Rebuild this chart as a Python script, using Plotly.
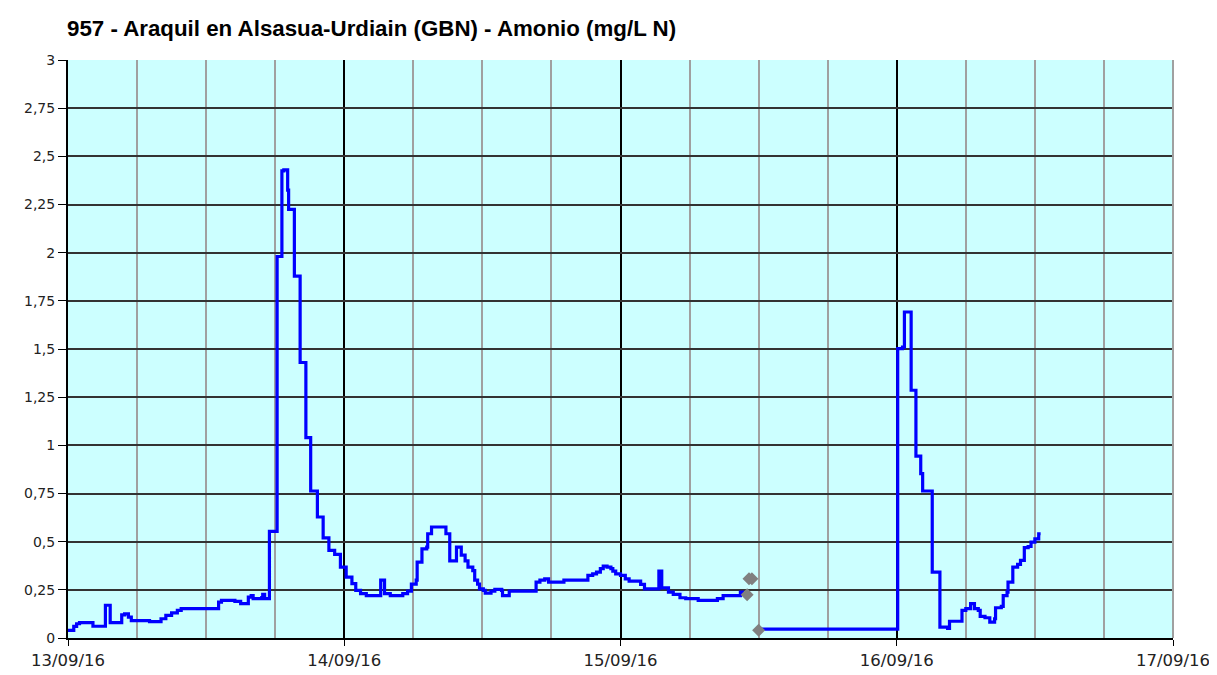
import plotly.graph_objects as go

# Amonio (mg/L N), 957 - Araquil en Alsasua-Urdiain, first stretch of readings
tramo1_horas = [
    "2016-09-13 00:00", "2016-09-13 00:30", "2016-09-13 00:45", "2016-09-13 01:00",
    "2016-09-13 02:10", "2016-09-13 03:15", "2016-09-13 03:40", "2016-09-13 04:40",
    "2016-09-13 04:55", "2016-09-13 05:15", "2016-09-13 05:30", "2016-09-13 07:05",
    "2016-09-13 08:05", "2016-09-13 08:30", "2016-09-13 09:00", "2016-09-13 09:30",
    "2016-09-13 09:50", "2016-09-13 13:05", "2016-09-13 13:20", "2016-09-13 14:30",
    "2016-09-13 15:00", "2016-09-13 15:40", "2016-09-13 15:55", "2016-09-13 16:05",
    "2016-09-13 16:50", "2016-09-13 16:55", "2016-09-13 17:05", "2016-09-13 17:30",
    "2016-09-13 18:10", "2016-09-13 18:35", "2016-09-13 18:45", "2016-09-13 19:05",
    "2016-09-13 19:10", "2016-09-13 19:40", "2016-09-13 20:10", "2016-09-13 20:40",
    "2016-09-13 21:05", "2016-09-13 21:40", "2016-09-13 22:10", "2016-09-13 22:40",
    "2016-09-13 23:10", "2016-09-13 23:40", "2016-09-14 00:10", "2016-09-14 00:40",
    "2016-09-14 01:00", "2016-09-14 01:25", "2016-09-14 01:55", "2016-09-14 03:10",
    "2016-09-14 03:30", "2016-09-14 04:00", "2016-09-14 05:05", "2016-09-14 05:30",
    "2016-09-14 05:50", "2016-09-14 06:15", "2016-09-14 06:20", "2016-09-14 06:45",
    "2016-09-14 07:10", "2016-09-14 07:15", "2016-09-14 07:35", "2016-09-14 08:50",
    "2016-09-14 09:10", "2016-09-14 09:45", "2016-09-14 10:10", "2016-09-14 10:30",
    "2016-09-14 10:45", "2016-09-14 11:10", "2016-09-14 11:20", "2016-09-14 11:35",
    "2016-09-14 11:45", "2016-09-14 12:05", "2016-09-14 12:15", "2016-09-14 12:45",
    "2016-09-14 13:05", "2016-09-14 13:40", "2016-09-14 13:45", "2016-09-14 14:20",
    "2016-09-14 16:40", "2016-09-14 17:00", "2016-09-14 17:25", "2016-09-14 17:45",
    "2016-09-14 19:05", "2016-09-14 21:10", "2016-09-14 21:35", "2016-09-14 21:55",
    "2016-09-14 22:15", "2016-09-14 22:30", "2016-09-14 22:50", "2016-09-14 23:10",
    "2016-09-14 23:20", "2016-09-14 23:35", "2016-09-15 00:00", "2016-09-15 00:25",
    "2016-09-15 00:45", "2016-09-15 01:45", "2016-09-15 02:05", "2016-09-15 03:20",
    "2016-09-15 03:35", "2016-09-15 04:10", "2016-09-15 04:35", "2016-09-15 05:10",
    "2016-09-15 05:40", "2016-09-15 06:45", "2016-09-15 08:25", "2016-09-15 08:55",
    "2016-09-15 10:25", "2016-09-15 10:45",
]
tramo1_valores = [
    0.04, 0.06, 0.074, 0.08,
    0.061, 0.17, 0.08, 0.12,
    0.125, 0.108, 0.09, 0.085,
    0.10, 0.117, 0.13, 0.143,
    0.152, 0.186, 0.195, 0.19,
    0.178, 0.212, 0.22, 0.204,
    0.21, 0.226, 0.204, 0.553,
    1.98, 2.425, 2.43, 2.325,
    2.225, 1.878, 1.43, 1.04,
    0.763, 0.628, 0.52, 0.455,
    0.434, 0.368, 0.316, 0.282,
    0.247, 0.23, 0.22, 0.30,
    0.23, 0.22, 0.23, 0.243,
    0.28, 0.30, 0.394, 0.463,
    0.472, 0.541, 0.576, 0.541,
    0.40, 0.472, 0.43, 0.40,
    0.368, 0.35, 0.30, 0.28,
    0.255, 0.247, 0.233, 0.243,
    0.252, 0.247, 0.22, 0.243,
    0.29, 0.30, 0.307, 0.29,
    0.30, 0.325, 0.333, 0.342,
    0.36, 0.373, 0.368, 0.36,
    0.347, 0.333, 0.325, 0.307,
    0.295, 0.278, 0.255, 0.347,
    0.26, 0.238, 0.226, 0.209,
    0.204, 0.195, 0.204, 0.22,
    0.238, 0.238,
]

# readings shown as grey points (not validated)
grises_horas = ["2016-09-15 11:00", "2016-09-15 11:10", "2016-09-15 11:25", "2016-09-15 12:00"]
grises_valores = [0.224, 0.307, 0.307, 0.04]

# second stretch
tramo2_horas = [
    "2016-09-15 12:00", "2016-09-16 00:05", "2016-09-16 00:30", "2016-09-16 00:40",
    "2016-09-16 01:15", "2016-09-16 01:40", "2016-09-16 02:05", "2016-09-16 02:15",
    "2016-09-16 03:05", "2016-09-16 03:45", "2016-09-16 04:25", "2016-09-16 04:35",
    "2016-09-16 05:40", "2016-09-16 06:00", "2016-09-16 06:25", "2016-09-16 06:45",
    "2016-09-16 07:05", "2016-09-16 07:15", "2016-09-16 07:40", "2016-09-16 08:05",
    "2016-09-16 08:30", "2016-09-16 08:35", "2016-09-16 09:05", "2016-09-16 09:15",
    "2016-09-16 09:35", "2016-09-16 09:40", "2016-09-16 10:05", "2016-09-16 10:30",
    "2016-09-16 10:45", "2016-09-16 11:05", "2016-09-16 11:25", "2016-09-16 11:40",
    "2016-09-16 12:00", "2016-09-16 12:20", "2016-09-16 12:30",
]
tramo2_valores = [
    0.046, 1.502, 1.51, 1.692,
    1.286, 0.944, 0.853, 0.763,
    0.342, 0.056, 0.05, 0.087,
    0.143, 0.152, 0.178, 0.152,
    0.143, 0.112, 0.105, 0.082,
    0.10, 0.157, 0.164, 0.22,
    0.238, 0.29, 0.368, 0.382,
    0.403, 0.469, 0.475, 0.498,
    0.515, 0.541, 0.541,
]

dias = ["2016-09-13", "2016-09-14", "2016-09-15", "2016-09-16", "2016-09-17"]
dias_texto = ["13/09/16", "14/09/16", "15/09/16", "16/09/16", "17/09/16"]
y_ticks = [0, 0.25, 0.5, 0.75, 1, 1.25, 1.5, 1.75, 2, 2.25, 2.5, 2.75, 3]
y_texto = ["0", "0,25", "0,5", "0,75", "1", "1,25", "1,5", "1,75", "2", "2,25", "2,5", "2,75", "3"]

fig = go.Figure()

for horas, valores in [(tramo1_horas, tramo1_valores), (tramo2_horas, tramo2_valores)]:
    fig.add_trace(
        go.Scatter(
            x=horas,
            y=valores,
            mode="lines",
            line=dict(color="#0000FF", width=3.2, shape="hv"),
            showlegend=False,
            hoverinfo="x+y",
        )
    )

fig.add_trace(
    go.Scatter(
        x=grises_horas,
        y=grises_valores,
        mode="markers",
        marker=dict(symbol="diamond", color="#808080", size=10),
        showlegend=False,
    )
)

# right border of the plot area (grey, like the minor grid)
fig.add_shape(
    type="line", xref="paper", yref="paper", x0=1, x1=1, y0=0, y1=1,
    line=dict(color="#A0A0A0", width=2), layer="above",
)

# the page body has an 8px margin, so the figure starts at (8, 8)
fig.update_layout(
    width=1217,
    height=675,
    margin=dict(l=60, r=52, t=52, b=45),
    paper_bgcolor="white",
    plot_bgcolor="#CCFFFF",
    title=dict(
        text="<b>957 - Araquil en Alsasua-Urdiain (GBN) - Amonio (mg/L N)</b>",
        font=dict(family="Liberation Sans Narrow, Arial Narrow, Liberation Sans", size=22.3, color="black"),
        xref="container", x=59 / 1217, xanchor="left",
        yref="container", y=1 - 20 / 675, yanchor="middle",
    ),
    xaxis=dict(
        type="date",
        range=["2016-09-13", "2016-09-17"],
        tickmode="array",
        tickvals=dias,
        ticktext=dias_texto,
        ticks="outside",
        ticklen=6,
        tickcolor="black",
        tickfont=dict(family="DejaVu Sans", size=16.5, color="#222222"),
        showgrid=True,
        gridcolor="black",
        gridwidth=2,
        showline=True,
        linecolor="black",
        linewidth=2,
        zeroline=False,
        minor=dict(dtick=6 * 3600 * 1000, showgrid=True, gridcolor="#A0A0A0", gridwidth=2),
    ),
    yaxis=dict(
        range=[0, 3],
        tickmode="array",
        tickvals=y_ticks,
        ticktext=y_texto,
        ticks="outside",
        ticklen=8,
        tickcolor="black",
        tickfont=dict(family="DejaVu Sans", size=14, color="#222222"),
        showgrid=True,
        gridcolor="#333333",
        gridwidth=2,
        showline=True,
        linecolor="black",
        linewidth=2,
        zeroline=False,
    ),
)

fig.write_html("out.html")
